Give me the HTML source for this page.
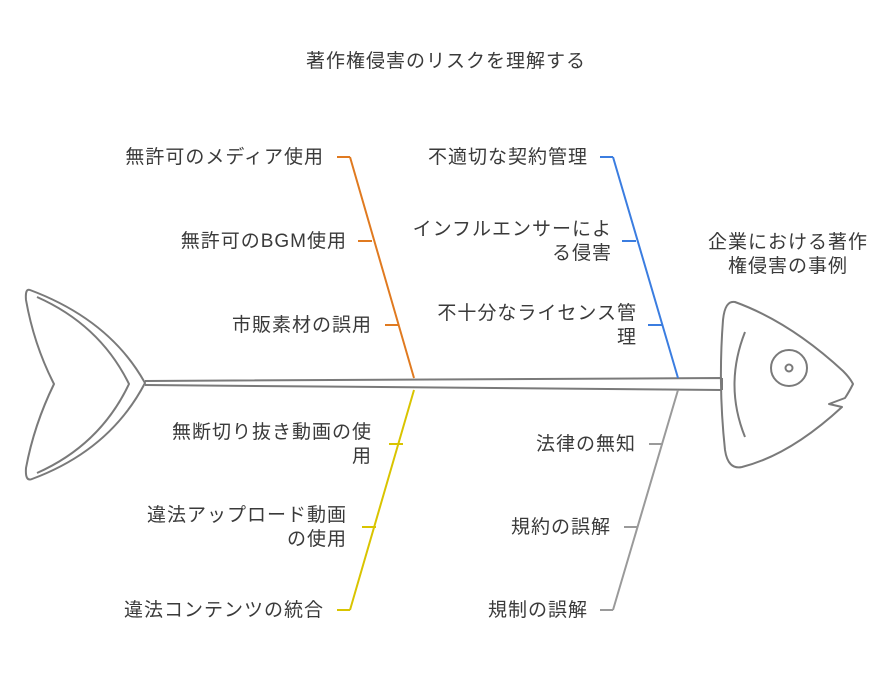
<!DOCTYPE html>
<html><head><meta charset="utf-8"><style>
body{margin:0;background:#fff;}
svg text{font-family:"Liberation Sans","Noto Sans CJK JP",sans-serif;font-size:19px;letter-spacing:1px;fill:#3a3a3a;}
</style></head><body>
<svg width="896" height="674" viewBox="0 0 896 674" xmlns="http://www.w3.org/2000/svg">
<text x="446" y="67" text-anchor="middle">著作権侵害のリスクを理解する</text>
<g fill="none" stroke="#7a7a7a" stroke-width="2" stroke-linejoin="round">
<path d="M145 381 L722 378 M145 385 L722 390 M722 378 L722 390"/>
<path d="M30 290 Q25 288 26 300 Q34 345 54 384 Q34 425 26 468 Q25 482 32 479 Q110 450 145 383 Q110 320 30 290 Z"/>
<path d="M37 297 Q100 325 129 384 Q100 445 37 473"/>
<path d="M735 302 Q725 300 723 320 Q718 385 725 450 Q728 470 742 467 Q790 455 842 407 L829 404 L845 398 Q849 392 853 384 Q850 378 843 371 Q790 322 735 302 Z"/>
<path d="M745 332 Q724 385 745 437"/>
<circle cx="789" cy="368" r="18"/>
<circle cx="789" cy="368" r="3.5"/>
</g>
<g fill="none" stroke-width="2">
<path stroke="#e07a20" d="M414 378 L350 157 M337 157 L350 157 M358 241 L372 241 M385 325 L398 325"/>
<path stroke="#3b7de0" d="M678 378 L613 157 M600 157 L613 157 M622 241 L636 241 M648 325 L662 325"/>
<path stroke="#d9c400" d="M414 390 L350 610 M337 610 L350 610 M362 527 L376 527 M389 444 L403 444"/>
<path stroke="#9a9a9a" d="M678 390 L613 610 M600 610 L613 610 M624 527 L637 527 M649 444 L663 444"/>
</g>
<g text-anchor="end">
<text x="324" y="163">無許可のメディア使用</text>
<text x="347" y="247">無許可のBGM使用</text>
<text x="372" y="331">市販素材の誤用</text>
<text x="588" y="163">不適切な契約管理</text>
<text x="612" y="235">インフルエンサーによ</text>
<text x="612" y="259">る侵害</text>
<text x="637" y="319">不十分なライセンス管</text>
<text x="637" y="343">理</text>
<text x="372" y="438">無断切り抜き動画の使</text>
<text x="372" y="462">用</text>
<text x="347" y="521">違法アップロード動画</text>
<text x="347" y="545">の使用</text>
<text x="324" y="616">違法コンテンツの統合</text>
<text x="636" y="450">法律の無知</text>
<text x="611" y="533">規約の誤解</text>
<text x="588" y="616">規制の誤解</text>
</g>
<text x="788" y="248" text-anchor="middle">企業における著作</text>
<text x="788" y="272" text-anchor="middle">権侵害の事例</text>
</svg>
</body></html>
